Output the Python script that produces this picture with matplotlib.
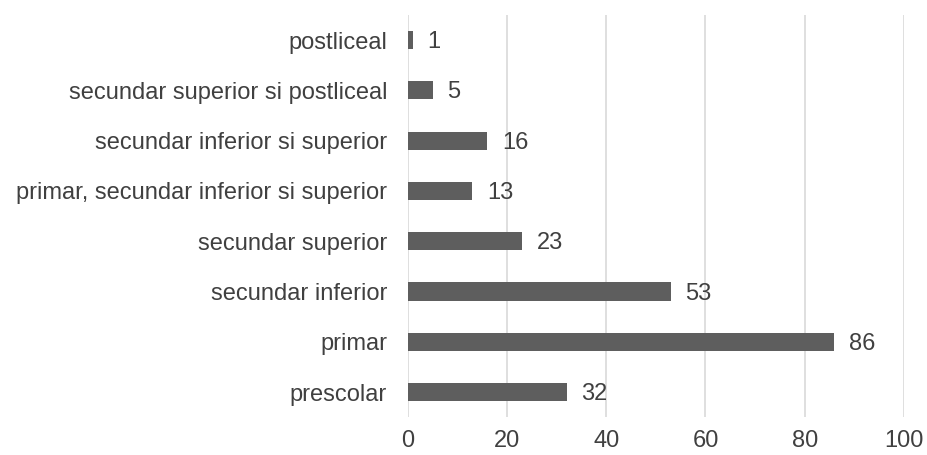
import matplotlib.pyplot as plt

plt.rcParams['font.family'] = ['Liberation Sans', 'DejaVu Sans']

categories = ['prescolar', 'primar', 'secundar inferior', 'secundar superior',
              'primar, secundar inferior si superior', 'secundar inferior si superior',
              'secundar superior si postliceal', 'postliceal']
values = [32, 86, 53, 23, 13, 16, 5, 1]

text_color = '#404040'
bar_color = '#5e5e5e'

fig = plt.figure(figsize=(9.27, 4.55), dpi=100)
ax = fig.add_axes([0.440, 0.083, 0.535, 0.884])

y = range(len(categories))
bars = ax.barh(y, values, height=0.36, color=bar_color, zorder=3)
for yi, v in zip(y, values):
    ax.text(v + 3, yi - 0.04, str(v), va='center', ha='left', fontsize=17, color=text_color)

ax.set_xlim(0, 100)
ax.set_ylim(-0.5, len(categories) - 0.5)
ax.set_xticks(range(0, 101, 20))
ax.set_yticks(list(y))
ax.set_yticklabels(categories)
ax.grid(axis='x', color='#d9d9d9', linewidth=1.2, zorder=0)
for s in ax.spines.values():
    s.set_visible(False)
ax.tick_params(axis='both', length=0, labelsize=17, labelcolor=text_color)
ax.tick_params(axis='x', pad=9)
ax.tick_params(axis='y', pad=15)

fig.savefig('out.png', dpi=100)
